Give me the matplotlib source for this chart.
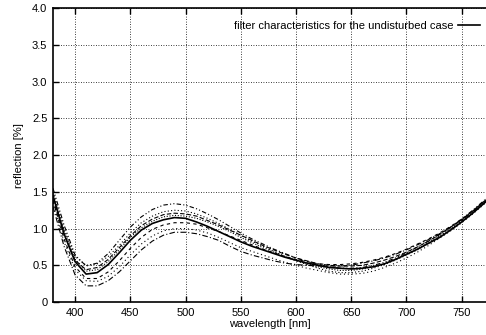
import matplotlib
matplotlib.use("Agg")
import matplotlib.pyplot as plt
from matplotlib.ticker import FixedLocator

plt.rcParams['font.family'] = ['Liberation Sans', 'DejaVu Sans']

wavelength = list(range(380, 790, 10))

main = [1.45, 0.93, 0.55, 0.38, 0.40, 0.51, 0.67, 0.84, 0.98, 1.07, 1.12, 1.15, 1.14, 1.09, 1.03,
        0.96, 0.89, 0.82, 0.76, 0.71, 0.66, 0.61, 0.57, 0.53, 0.50, 0.47, 0.46, 0.45, 0.46, 0.48,
        0.52, 0.58, 0.65, 0.72, 0.80, 0.88, 0.98, 1.09, 1.21, 1.34, 1.48]
c1 = [1.55, 1.05, 0.64, 0.49, 0.53, 0.66, 0.84, 1.02, 1.16, 1.26, 1.32, 1.34, 1.32, 1.27, 1.20,
      1.12, 1.03, 0.94, 0.86, 0.79, 0.72, 0.66, 0.60, 0.55, 0.51, 0.48, 0.46, 0.46, 0.47, 0.50,
      0.54, 0.60, 0.67, 0.75, 0.83, 0.92, 1.02, 1.13, 1.25, 1.38, 1.51]
c2 = [1.50, 1.00, 0.62, 0.50, 0.52, 0.62, 0.77, 0.94, 1.08, 1.17, 1.23, 1.25, 1.24, 1.20, 1.14,
      1.07, 0.99, 0.91, 0.83, 0.76, 0.69, 0.62, 0.56, 0.51, 0.46, 0.42, 0.40, 0.40, 0.42, 0.46,
      0.51, 0.57, 0.64, 0.71, 0.80, 0.89, 0.99, 1.10, 1.22, 1.35, 1.48]
c3 = [1.40, 0.92, 0.57, 0.44, 0.47, 0.58, 0.74, 0.90, 1.04, 1.13, 1.19, 1.21, 1.20, 1.17, 1.11,
      1.05, 0.98, 0.91, 0.84, 0.77, 0.71, 0.65, 0.60, 0.56, 0.52, 0.50, 0.49, 0.49, 0.50, 0.53,
      0.57, 0.62, 0.68, 0.75, 0.83, 0.92, 1.02, 1.12, 1.24, 1.37, 1.50]
c4 = [1.48, 0.97, 0.58, 0.42, 0.44, 0.55, 0.71, 0.88, 1.01, 1.10, 1.16, 1.18, 1.17, 1.14, 1.09,
      1.03, 0.96, 0.88, 0.81, 0.74, 0.68, 0.62, 0.57, 0.52, 0.48, 0.45, 0.43, 0.43, 0.45, 0.48,
      0.52, 0.58, 0.65, 0.72, 0.81, 0.90, 1.00, 1.11, 1.23, 1.36, 1.49]
c6 = [1.38, 0.86, 0.48, 0.32, 0.32, 0.41, 0.56, 0.73, 0.88, 0.99, 1.05, 1.08, 1.08, 1.06, 1.01,
      0.96, 0.90, 0.84, 0.78, 0.72, 0.67, 0.62, 0.58, 0.55, 0.52, 0.51, 0.51, 0.52, 0.54, 0.57,
      0.61, 0.66, 0.72, 0.79, 0.86, 0.94, 1.03, 1.13, 1.24, 1.36, 1.48]
c7 = [1.35, 0.82, 0.44, 0.29, 0.28, 0.35, 0.48, 0.64, 0.79, 0.90, 0.97, 1.00, 1.00, 0.98, 0.94,
      0.88, 0.81, 0.74, 0.69, 0.64, 0.59, 0.54, 0.50, 0.46, 0.43, 0.40, 0.38, 0.38, 0.39, 0.42,
      0.47, 0.53, 0.60, 0.68, 0.77, 0.87, 0.97, 1.08, 1.20, 1.33, 1.46]
c8 = [1.30, 0.76, 0.37, 0.22, 0.22, 0.29, 0.41, 0.56, 0.71, 0.83, 0.91, 0.95, 0.95, 0.93, 0.89,
      0.84, 0.76, 0.69, 0.64, 0.60, 0.56, 0.53, 0.51, 0.50, 0.49, 0.49, 0.49, 0.50, 0.53, 0.56,
      0.60, 0.65, 0.71, 0.78, 0.85, 0.93, 1.02, 1.12, 1.23, 1.35, 1.48]

variants = [c1, c2, c3, c4, c6, c7, c8]
styles = [(0, (4, 2, 1, 2, 1, 2)), (0, (1, 2)), (0, (4, 2)), (0, (1, 1.5)),
          (0, (3, 3)), (0, (1, 2.5)), (0, (5, 2, 1, 2))]

x_ticks = [400, 450, 500, 550, 600, 650, 700, 750]
y_ticks = [0, 0.5, 1.0, 1.5, 2.0, 2.5, 3.0, 3.5, 4.0]
y_labels = ['0', '0.5', '1.0', '1.5', '2.0', '2.5', '3.0', '3.5', '4.0']

fig = plt.figure(figsize=(4.86, 3.35), dpi=100)
ax = fig.add_axes([0.109, 0.0985, 0.891, 0.8765])

for v, ls in zip(variants, styles):
    ax.plot(wavelength, v, color='black', lw=0.8, ls=ls)
ax.plot(wavelength, main, color='black', lw=1.2,
        label='filter characteristics for the undisturbed case')

ax.set_xlim(380, 772)
ax.set_ylim(0, 4.0)
ax.xaxis.set_major_locator(FixedLocator(x_ticks))
ax.set_yticks(y_ticks)
ax.set_yticklabels(y_labels)
ax.grid(True, color='black', lw=0.6, ls=(0, (1, 2)))
ax.tick_params(direction='in', length=4, width=1, labelsize=8, top=True, right=False, pad=4)
ax.spines['right'].set_visible(False)
for s in ['left', 'bottom', 'top']:
    ax.spines[s].set_linewidth(1.2)

ax.set_xlabel('wavelength [nm]', fontsize=8, labelpad=1)
ax.set_ylabel('reflection [%]', fontsize=8, labelpad=6)

ax.legend(loc='upper right', frameon=False, markerfirst=False, fontsize=8,
          handlelength=2.0, handletextpad=0.45, borderaxespad=0.3,
          bbox_to_anchor=(1.005, 0.985))

fig.savefig('out.png', dpi=100)
